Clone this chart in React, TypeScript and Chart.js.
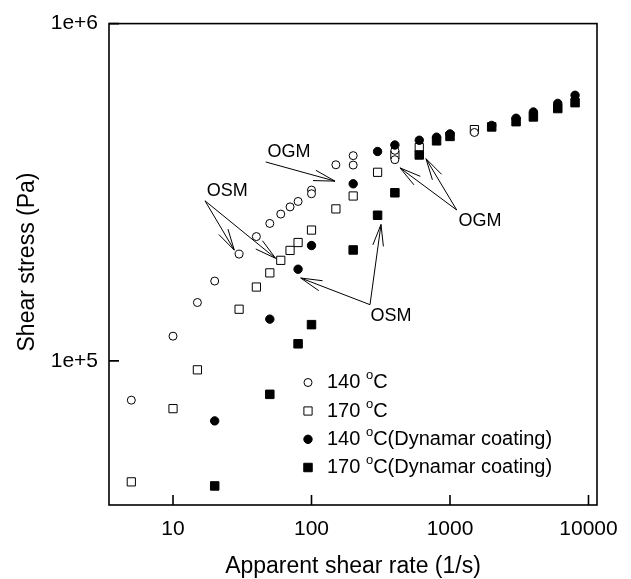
import React, { useEffect, useRef } from 'react';
import { Chart, registerables } from 'chart.js';

Chart.register(...registerables);

// ---- data ----
const rate140 = [5, 10, 15, 20, 30, 40, 50, 60, 70, 80, 100, 100, 150, 200, 200, 400, 400, 1500];
const stress140 = [76500, 118400, 149000, 172500, 207300, 233700, 255600, 272500, 286200, 297000, 321000, 313000, 381500, 406000, 380700, 421000, 395000, 475600];

const rate170 = [5, 10, 15, 30, 40, 50, 60, 70, 80, 100, 150, 200, 300, 400, 600, 1500];
const stress170 = [43800, 72200, 94100, 142300, 165600, 182400, 198700, 212600, 224400, 244300, 282300, 308300, 362400, 408000, 429000, 485000];

const rate140D = [20, 50, 80, 100, 200, 300, 400, 600, 800, 1000, 2000, 3000, 4000, 6000, 8000];
const stress140D = [66400, 133000, 187000, 219800, 335000, 417700, 436600, 451000, 460500, 471000, 499000, 524000, 547000, 580000, 613000];

const rate170D = [20, 50, 80, 100, 200, 300, 400, 600, 800, 1000, 2000, 3000, 4000, 6000, 8000];
const stress170D = [42600, 79600, 112400, 128100, 213300, 270300, 315100, 408000, 449300, 463000, 494000, 512000, 529000, 560000, 583000];

const seriesNames = ['140 ', '170 ', '140 ', '170 '];
const seriesSuffix = ['C', 'C', 'C(Dynamar coating)', 'C(Dynamar coating)'];

const xTicks = [10, 100, 1000, 10000];
const xTickLabels = ['10', '100', '1000', '10000'];
const yTicks = [100000, 1000000];
const yTickLabels = ['1e+5', '1e+6'];

const xMin = 3.45;
const xMax = 11520;
const yMin = 37400;
const yMax = 1000000;

const xTitle = 'Apparent shear rate (1/s)';
const yTitle = 'Shear stress (Pa)';

// annotations (in data space)
const noteLabels = ['OGM', 'OSM', 'OGM', 'OSM'];
const noteX = [68.8, 24.66, 1647, 375];
const noteY = [417000, 319000, 260100, 136300];

const arrowFromX = [46.7, 17.02, 17.02, 1118, 1118, 264.5, 264.5];
const arrowFromY = [388900, 298300, 298300, 280200, 280200, 146800, 146800];
const arrowToX = [147.8, 27.7, 55.1, 435.5, 671, 83.6, 317.6];
const arrowToY = [341200, 213000, 201400, 373500, 397600, 176100, 253800];

const FONT = '"Liberation Sans", Arial, Helvetica, sans-serif';

function pts(xs: number[], ys: number[]) {
  return xs.map((x, i) => ({ x, y: ys[i] }));
}

const framePlugin = {
  id: 'framePlugin',
  afterDraw(chart: any) {
    const { ctx, chartArea } = chart;
    const xs = chart.scales.x;
    const ys = chart.scales.y;
    const { left, right, top, bottom } = chartArea;
    ctx.save();
    // box
    ctx.strokeStyle = '#000';
    ctx.lineWidth = 1.6;
    ctx.strokeRect(left, top, right - left, bottom - top);
    // inward ticks
    ctx.beginPath();
    xTicks.forEach((v) => {
      const px = xs.getPixelForValue(v);
      ctx.moveTo(px, bottom);
      ctx.lineTo(px, bottom - 10);
    });
    yTicks.forEach((v) => {
      const py = ys.getPixelForValue(v);
      ctx.moveTo(left, py);
      ctx.lineTo(left + 10, py);
    });
    ctx.stroke();

    // axis titles
    ctx.fillStyle = '#000';
    ctx.font = `23px ${FONT}`;
    ctx.textAlign = 'center';
    ctx.textBaseline = 'middle';
    ctx.fillText(xTitle, (left + right) / 2, 567);
    ctx.save();
    ctx.translate(28, 262);
    ctx.rotate(-Math.PI / 2);
    ctx.fillText(yTitle, 0, 0);
    ctx.restore();

    // annotations
    ctx.font = `18px ${FONT}`;
    noteLabels.forEach((t, i) => {
      ctx.fillText(t, xs.getPixelForValue(noteX[i]), ys.getPixelForValue(noteY[i]));
    });
    ctx.lineWidth = 1;
    arrowFromX.forEach((_, i) => {
      const x1 = xs.getPixelForValue(arrowFromX[i]);
      const y1 = ys.getPixelForValue(arrowFromY[i]);
      const x2 = xs.getPixelForValue(arrowToX[i]);
      const y2 = ys.getPixelForValue(arrowToY[i]);
      const a = Math.atan2(y2 - y1, x2 - x1);
      const L = 22;
      const h = (14 * Math.PI) / 180;
      ctx.beginPath();
      ctx.moveTo(x1, y1);
      ctx.lineTo(x2, y2);
      ctx.moveTo(x2, y2);
      ctx.lineTo(x2 - L * Math.cos(a - h), y2 - L * Math.sin(a - h));
      ctx.moveTo(x2, y2);
      ctx.lineTo(x2 - L * Math.cos(a + h), y2 - L * Math.sin(a + h));
      ctx.stroke();
    });

    // legend
    const lx = 308;
    const tx = 327;
    const rowY = [382.5, 411, 439.3, 467.5];
    chart.data.datasets.forEach((ds: any, i: number) => {
      const y = rowY[i];
      ctx.beginPath();
      ctx.lineWidth = ds.borderWidth;
      ctx.strokeStyle = ds.borderColor;
      ctx.fillStyle = ds.backgroundColor;
      if (ds.pointStyle === 'circle') {
        ctx.arc(lx, y, ds.pointRadius, 0, Math.PI * 2);
      } else {
        const s = Math.SQRT1_2 * ds.pointRadius;
        ctx.rect(lx - s, y - s, 2 * s, 2 * s);
      }
      ctx.fill();
      ctx.stroke();
      ctx.fillStyle = '#000';
      ctx.textAlign = 'left';
      ctx.textBaseline = 'middle';
      ctx.font = `20px ${FONT}`;
      let x = tx;
      ctx.fillText(seriesNames[i], x, y);
      x += ctx.measureText(seriesNames[i]).width;
      ctx.font = `13px ${FONT}`;
      ctx.fillText('o', x, y - 7);
      x += ctx.measureText('o').width;
      ctx.font = `20px ${FONT}`;
      ctx.fillText(seriesSuffix[i], x, y);
    });
    ctx.restore();
  },
};

export default function App() {
  const ref = useRef<HTMLCanvasElement | null>(null);
  useEffect(() => {
    if (!ref.current) return;
    const tickFont = { family: FONT, size: 21 };
    const chart = new Chart(ref.current, {
      type: 'scatter',
      data: {
        datasets: [
          { label: '140 °C', data: pts(rate140, stress140), pointStyle: 'circle', pointRadius: 4, backgroundColor: '#fff', borderColor: '#000', borderWidth: 1, order: 2 },
          { label: '170 °C', data: pts(rate170, stress170), pointStyle: 'rect', pointRadius: 5.8, backgroundColor: '#fff', borderColor: '#000', borderWidth: 1, order: 2 },
          { label: '140 °C(Dynamar coating)', data: pts(rate140D, stress140D), pointStyle: 'circle', pointRadius: 4.2, backgroundColor: '#000', borderColor: '#000', borderWidth: 1, order: 1 },
          { label: '170 °C(Dynamar coating)', data: pts(rate170D, stress170D), pointStyle: 'rect', pointRadius: 6, backgroundColor: '#000', borderColor: '#000', borderWidth: 1, order: 1 },
        ] as any,
      },
      options: {
        responsive: false,
        animation: false,
        layout: { padding: { top: 17, right: 34, left: 0, bottom: 0 } },
        scales: {
          x: {
            type: 'logarithmic',
            min: xMin,
            max: xMax,
            afterFit: (s: any) => { s.height = 74; },
            afterBuildTicks: (s: any) => { s.ticks = xTicks.map((v) => ({ value: v })); },
            ticks: {
              callback: (_v: any, i: number) => xTickLabels[i],
              font: tickFont,
              color: '#000',
              padding: 12,
              autoSkip: false,
              maxRotation: 0,
            },
            grid: { display: false, drawTicks: false },
            border: { display: false },
          },
          y: {
            type: 'logarithmic',
            min: yMin,
            max: yMax,
            afterFit: (s: any) => { s.width = 109; },
            afterBuildTicks: (s: any) => { s.ticks = yTicks.map((v) => ({ value: v })); },
            ticks: {
              callback: (_v: any, i: number) => yTickLabels[i],
              font: tickFont,
              color: '#000',
              padding: 11,
              autoSkip: false,
            },
            grid: { display: false, drawTicks: false },
            border: { display: false },
          },
        },
        plugins: { legend: { display: false }, tooltip: { enabled: false } },
      } as any,
      plugins: [framePlugin],
    });
    return () => chart.destroy();
  }, []);
  return (
    <div style={{ position: 'absolute', left: 0, top: 0, width: 631, height: 579, background: '#fff' }}>
      <canvas ref={ref} width={631} height={579} style={{ width: 631, height: 579 }} />
    </div>
  );
}
